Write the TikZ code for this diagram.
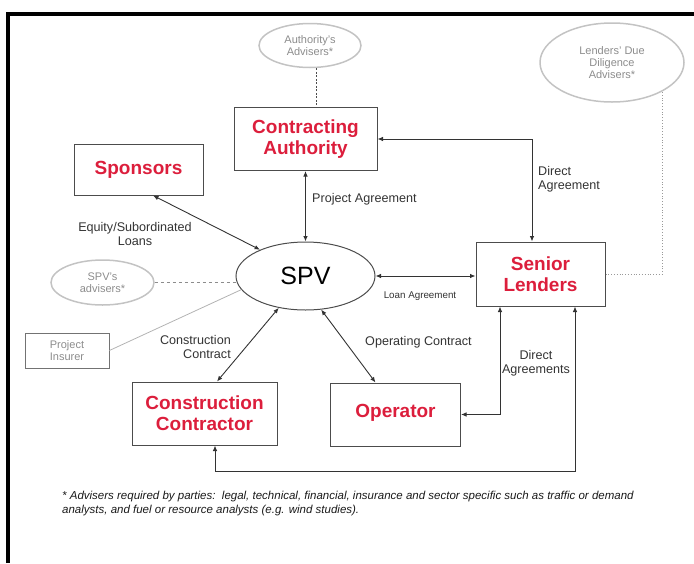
\documentclass[tikz,border=0pt]{standalone}
\usepackage{fontspec}
\setmainfont{Liberation Sans}
\usetikzlibrary{arrows.meta,shapes.geometric}
\definecolor{partyred}{RGB}{220,30,60}
\definecolor{advgray}{RGB}{195,195,195}
\begin{document}
\begin{tikzpicture}[x=1pt,y=-1pt,>={Latex[length=5.5pt,width=4.5pt]},
    party/.style={draw=black!70,line width=1pt,rectangle,inner sep=0pt,text=partyred,
        font=\fontsize{19}{21}\selectfont\bfseries,align=center},
    adviser/.style={draw=advgray,line width=1.5pt,ellipse,inner sep=0pt,text=black!45,
        font=\fontsize{11}{12}\selectfont,align=center},
    link/.style={draw=black!80,line width=0.9pt},
    lbl/.style={font=\fontsize{12.6}{14}\selectfont,text=black!80,inner sep=0pt}]
    \useasboundingbox (0,0) rectangle (694,563);
    \draw [line width=3.5pt](8,563) |- (694,14);
    % parties
    \node [party,minimum width=143pt,minimum height=63pt] (ca) at (305.5,139) {Contracting\\Authority};
    \node [party,minimum width=129pt,minimum height=51pt] (sponsors) at (138.5,169.5) {Sponsors};
    \node [party,minimum width=129pt,minimum height=64pt] (lenders) at (540.5,274) {Senior\\Lenders};
    \node [party,minimum width=145pt,minimum height=63pt] (cc) at (204.5,413.5) {Construction\\Contractor};
    \node [party,minimum width=130pt,minimum height=63pt] (op) at (395.5,414.5) {\raisebox{7pt}{Operator}};
    \node [draw=black!70,line width=1pt,ellipse,minimum width=139pt,minimum height=68pt,inner sep=0pt,
        font=\fontsize{25}{25}\selectfont] (spv) at (305.5,276) {SPV};
    % advisers
    \node [adviser,minimum width=102pt,minimum height=44pt] (caadv) at (310,45.5) {Authority's\\Advisers*};
    \node [adviser,minimum width=144pt,minimum height=79pt] (lddadv) at (612,62.5) {Lenders' Due\\Diligence\\Advisers*};
    \node [adviser,minimum width=103pt,minimum height=45pt] (spvadv) at (102.5,282.5) {SPV's\\advisers*};
    \node [draw=black!55,line width=0.8pt,minimum width=84pt,minimum height=35pt,inner sep=0pt,align=center,
        text=black!45,font=\fontsize{11}{12}\selectfont] (insurer) at (67,350.5) {Project\\Insurer};
    % dotted links
    \draw [black!70,line width=0.8pt,dash pattern=on 2pt off 1.5pt]([xshift=6pt]caadv.south) -- ([xshift=6pt]caadv.south |- ca.north);
    \draw [black!40,line width=0.8pt,dotted](lenders.east) -| (lddadv.-30);
    \draw [black!45,line width=0.8pt,dashed](spvadv.east) -- (spvadv.east -| spv.west);
    \draw [black!30,line width=0.8pt](insurer.east) -- (spv.192);
    % agreements
    \draw [link,<->](ca.south) -- (spv.north);
    \draw [link,<->](spv.east) -- (spv.east -| lenders.west);
    \draw [link,<->](ca.east) -| ([xshift=-8.5pt]lenders.north);
    \draw [link,<->]([xshift=14.5pt]sponsors.south) -- (spv.150);
    \draw [link,<->](spv.230) -- ([xshift=12.5pt]cc.north);
    \draw [link,<->](spv.295) -- ([xshift=-20pt]op.north);
    \draw [link,<->](op.east) -| ([xshift=-40.5pt]lenders.south);
    \draw [link,<->]([xshift=10.5pt]cc.south) -- ++(0,26) -| ([xshift=34.5pt]lenders.south);
    % labels
    \node [lbl,anchor=west] (lproject) at (312,199) {Project Agreement};
    \node [lbl,anchor=west,align=left] (ldirect) at (538,179) {Direct\\Agreement};
    \node [lbl,align=center] (lequity) at (135,234) {Equity/Subordinated\\Loans};
    \node [lbl,font=\fontsize{9.8}{11}\selectfont] (lloan) at (420,296) {Loan Agreement};
    \node [lbl,anchor=east,align=right] (lconstr) at (231,347) {Construction\\Contract};
    \node [lbl,anchor=west] (loperating) at (365,342) {Operating Contract};
    \node [lbl,align=center] (ldirects) at (536,363) {Direct\\Agreements};
    \node [anchor=north west,inner sep=0pt,align=left,text=black!90,
        font=\fontsize{11.5}{14}\selectfont\itshape] (note) at (62,491)
        {* Advisers required by parties:~~legal, technical, financial, insurance and sector specific such as traffic or demand\\
        analysts, and fuel or resource analysts (e.g. wind studies).};
\end{tikzpicture}
\end{document}
